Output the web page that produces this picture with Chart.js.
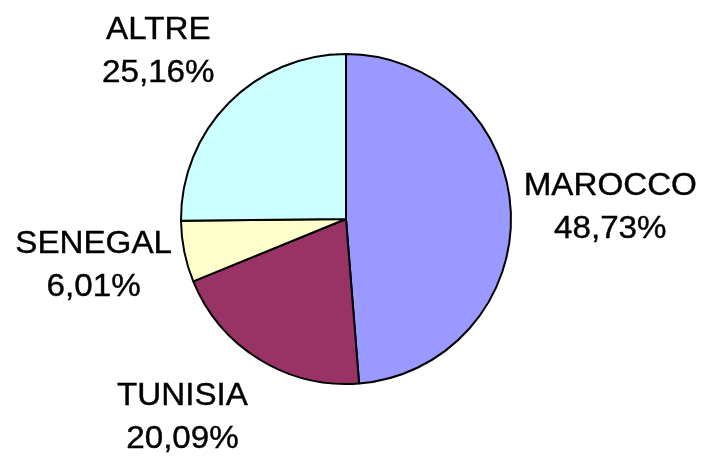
<!DOCTYPE html>
<html>
<head>
<meta charset="utf-8">
<script src="https://cdn.jsdelivr.net/npm/chart.js@4"></script>
<style>
    html, body { margin: 0; padding: 0; background: #fff; }
    #wrap { width: 707px; height: 456px; }
</style>
</head>
<body>
<div id="wrap"><canvas id="myPieChart" width="707" height="456"></canvas></div>
<script>
// Pie data
const labels = ["MAROCCO", "TUNISIA", "SENEGAL", "ALTRE"]
const values = [48.73, 20.09, 6.01, 25.16]
const colors = ["#9999ff", "#993366", "#ffffcc", "#ccffff"]

// label nudges (px), excel-style placement is not exactly radial
const nudges = [[6, -3], [-28, -24], [1, -7], [-4, 12]]

const outsideLabels = {
    id: "outsideLabels",
    afterDatasetsDraw(chart) {
        const ctx = chart.ctx
        const meta = chart.getDatasetMeta(0)
        ctx.save()
        ctx.font = "31px 'Liberation Sans', Arial, sans-serif"
        ctx.fillStyle = "#000"
        ctx.strokeStyle = "#000"
        ctx.lineWidth = 0.4
        ctx.textAlign = "center"
        ctx.textBaseline = "alphabetic"
        meta.data.forEach((arc, i) => {
            const p = arc.getProps(["x", "y", "startAngle", "endAngle", "outerRadius"], true)
            const mid = (p.startAngle + p.endAngle) / 2
            const dist = p.outerRadius + 93.5
            const cx = p.x + Math.cos(mid) * dist + nudges[i][0]
            const cy = p.y + Math.sin(mid) * dist + nudges[i][1]
            const txt = [labels[i], values[i].toFixed(2).replace(".", ",") + "%"]
            txt.forEach((t, j) => {
                ctx.save()
                ctx.translate(cx, cy - 10.5 + j * 43)
                ctx.scale(1.07, 1)
                ctx.fillText(t, 0, 0)
                ctx.strokeText(t, 0, 0)
                ctx.restore()
            })
        })
        ctx.restore()
    },
}

var ctx = document.getElementById("myPieChart").getContext("2d")
const config = {
    type: "pie",
    data: {
        labels: labels,
        datasets: [
            {
                data: values,
                backgroundColor: colors,
                borderColor: "#000",
                borderWidth: 2,
            },
        ],
    },
    options: {
        responsive: false,
        animation: false,
        layout: {
            padding: { top: 53, bottom: 71, left: 0, right: 15 },
        },
        plugins: {
            legend: { display: false },
            tooltip: { enabled: false },
        },
    },
    plugins: [outsideLabels],
}
var myChart = new Chart(ctx, config)
</script>
</body>
</html>
